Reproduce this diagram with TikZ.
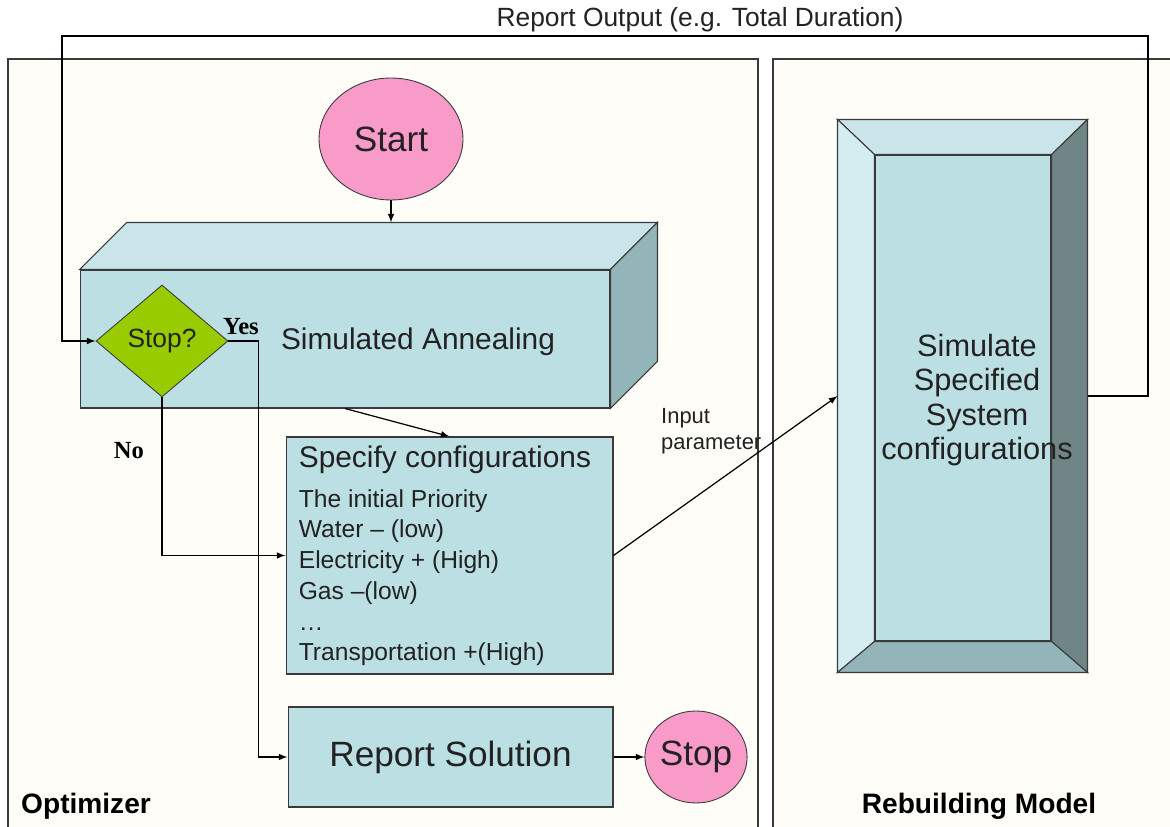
\documentclass[tikz,border=0pt]{standalone}
\usepackage{fontspec}
\setmainfont{Liberation Sans}
\newfontfamily\yesnofont{Liberation Serif}
\usetikzlibrary{arrows,shapes,backgrounds,positioning}
\definecolor{cream}{HTML}{FEFDF7}
\definecolor{facefront}{HTML}{BBDFE3}
\definecolor{facetop}{HTML}{C9E5E9}
\definecolor{faceside}{HTML}{93B4B8}
\definecolor{facelight}{HTML}{D5ECF0}
\definecolor{facedark}{HTML}{6F8586}
\definecolor{pinkend}{HTML}{F99BC9}
\definecolor{greendec}{HTML}{99CC00}
\definecolor{linegray}{HTML}{3A3A3A}
\definecolor{inkgray}{HTML}{222222}
\tikzstyle{panel}=[fill=cream, draw=linegray, line width=0.8pt]
\tikzstyle{face}=[draw=linegray, line width=0.6pt]
\tikzstyle{box}=[rectangle, fill=facefront, draw=linegray, line width=0.6pt, inner sep=0pt, text=inkgray]
\tikzstyle{term}=[ellipse, fill=pinkend, draw=linegray, line width=0.5pt, inner sep=0pt, text=inkgray]
\tikzstyle{decide}=[diamond, fill=greendec, draw=linegray, line width=0.5pt, inner sep=0pt, text=inkgray]
\tikzstyle{arr}=[-latex, line width=0.7pt]
\tikzstyle{lab}=[font=\fontsize{14}{17.5}\selectfont, text=inkgray]
\tikzstyle{big}=[font=\fontsize{20}{24}\selectfont]
\tikzstyle{yesno}=[font=\yesnofont\bfseries\fontsize{14}{16}\selectfont]
\tikzstyle{title}=[font=\bfseries\fontsize{16}{18}\selectfont]

\begin{document}
\begin{tikzpicture}[x=0.02cm, y=-0.02cm]
          \useasboundingbox (0,0) rectangle (1170,827);
          \clip (0,0) rectangle (1170,827);
          \fill[white] (0,0) rectangle (1170,827);
          % panels
          \draw[panel] (8,59) rectangle (758,860);
          \draw[panel] (773,59) rectangle (1220,860);
          \node at (15,806) [title, anchor=west] (optlab) {Optimizer};
          \node at (979,806) [title] (reblab) {Rebuilding Model};
          % 
          \node at (391,139) [term, big, minimum width=2.88cm, minimum height=2.44cm] (start) {Start};
          \node at (345,339) [box, minimum width=10.6cm, minimum height=2.76cm] (sa) {};
          \coordinate (saback) at ([shift={(47,-47)}]sa.north west);
          \fill[facetop, face] (sa.north west) -- (saback) -- ([shift={(47,-47)}]sa.north east) -- (sa.north east) -- cycle;
          \fill[faceside, face] (sa.north east) -- ([shift={(47,-47)}]sa.north east) -- ([shift={(47,-47)}]sa.south east) -- (sa.south east) -- cycle;
          \node at (418,342) [lab, font=\fontsize{17}{20}\selectfont] (salab) {Simulated Annealing};
          \node at (162,341) [decide, minimum width=2.64cm, minimum height=2.24cm, font=\fontsize{15}{17}\selectfont] (stopq) {Stop?};
          \node at (241,327) [yesno] (yes) {Yes};
          \node at (129,451) [yesno] (no) {No};
          % 
          \node at (449.5,555.5) [box, minimum width=6.54cm, minimum height=4.74cm] (spec) {};
          \node at ([shift={(13,9)}]spec.north west) [lab, anchor=north west, inner sep=0pt, align=left] (spectxt)
                {{\fontsize{17}{18}\selectfont Specify configurations}\\[5pt]
                 The initial Priority\\
                 Water – (low)\\
                 Electricity + (High)\\
                 Gas –(low)\\
                 …\\
                 Transportation +(High)};
          \node at (450.5,757) [box, big, minimum width=6.5cm, minimum height=2cm] (rep) {Report Solution};
          \node at (696,757) [term, big, minimum width=2.02cm, minimum height=1.84cm] (stp) {Stop};
          % 
          \node at (962.5,396) [box, minimum width=4.98cm, minimum height=11.04cm] (sim) {};
          \node at (963,398) [box, minimum width=3.52cm, minimum height=9.72cm] (simin) {};
          \fill[facetop, face] (sim.north west) -- (sim.north east) -- (simin.north east) -- (simin.north west) -- cycle;
          \fill[facelight, face] (sim.north west) -- (simin.north west) -- (simin.south west) -- (sim.south west) -- cycle;
          \fill[facedark, face] (sim.north east) -- (sim.south east) -- (simin.south east) -- (simin.north east) -- cycle;
          \fill[faceside, face] (sim.south west) -- (simin.south west) -- (simin.south east) -- (sim.south east) -- cycle;
          \node at (977,400) [lab, font=\fontsize{17.5}{19.7}\selectfont, align=center] (simlab) {Simulate\\Specified\\System\\configurations};
          % 
          \coordinate (loopr) at (1148,36);
          \coordinate (loopl) at (62,36);
          \draw[arr] (start) -- (start |- saback);
          \draw[arr] (sa.south) -- (spec.north);
          \draw[arr] (stopq.east) -- ++(30,0) |- (rep.west);
          \draw[arr] (stopq.south) |- (spec.west);
          \draw[arr] (rep.east) -- (stp.west);
          \draw[arr] (spec.east) -- (sim.west);
          \draw[arr] (sim.east) -| (loopr) -- (loopl) |- (stopq.west);
          \node at (655,431) [lab, font=\fontsize{12.5}{15}\selectfont, anchor=west, align=left] (inlab) {Input\\parameter};
          \node at (700,20) [lab, font=\fontsize{15}{17}\selectfont] (replab) {Report Output (e.g. Total Duration)};
        \end{tikzpicture}
\end{document}
